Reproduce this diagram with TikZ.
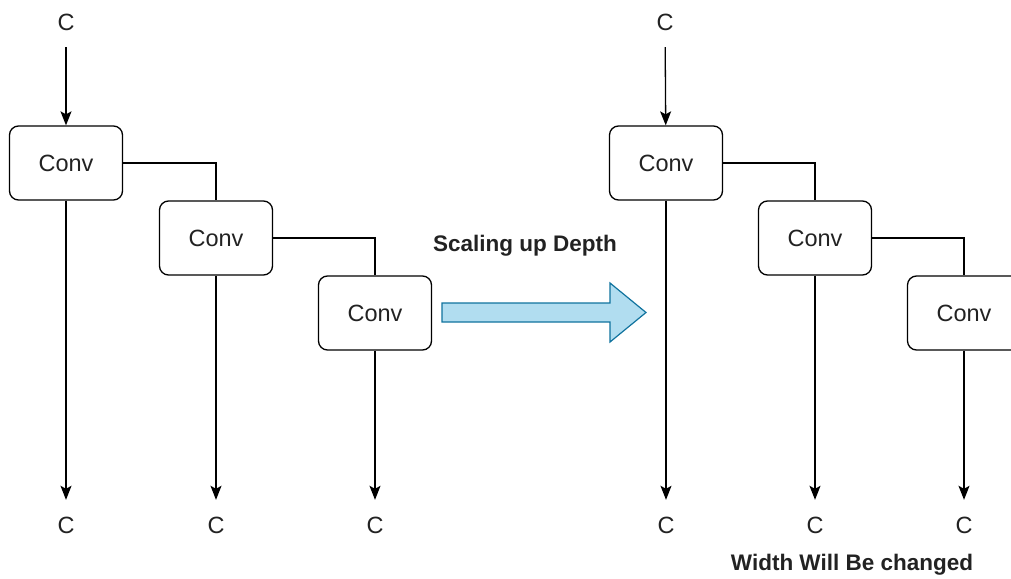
\documentclass[tikz,border=0pt]{standalone}
\usepackage{fontspec}
\setmainfont{Liberation Sans}
\usetikzlibrary{arrows.meta}
\definecolor{arrfill}{HTML}{B1DDF0}
\definecolor{arrdraw}{HTML}{10739E}
\definecolor{txt}{HTML}{222222}
\begin{document}
\begin{tikzpicture}[x=1pt,y=-1pt,
  every node/.style={text=txt,font=\fontsize{23.5}{27}\selectfont},
  convbox/.style={draw,line width=1.3pt,rounded corners=9pt,minimum width=113pt,minimum height=74pt,inner sep=0pt},
  clabel/.style={minimum height=50pt,inner sep=0pt},
  arr/.style={line width=1.3pt,-{Stealth[width=11pt,length=14pt,inset=3pt]}},
  wire/.style={line width=1.3pt},
  boldlabel/.style={font=\fontsize{22.5}{26}\selectfont\bfseries}]
\useasboundingbox (0,0) rectangle (1011,578);
\clip (0,0) rectangle (1011,578);
% left
\node[clabel] (t1) at (66,22) {C};
\node[convbox] (b1) at (66,163) {Conv};
\node[convbox] (b2) at (216,238) {Conv};
\node[convbox] (b3) at (375,313) {Conv};
\node[clabel] (c1) at (66,525) {C};
\node[clabel] (c2) at (216,525) {C};
\node[clabel] (c3) at (375,525) {C};
\draw[arr] (t1) -- (b1);
\draw[wire] (b1.east) -| (b2.north);
\draw[wire] (b2.east) -| (b3.north);
\draw[arr] (b1) -- (c1);
\draw[arr] (b2) -- (c2);
\draw[arr] (b3) -- (c3);
% big arrow
\draw[line width=1.2pt,fill=arrfill,draw=arrdraw,line join=miter]
  (442,303) -- (610,303) -- (610,283) -- (646,312.5) -- (610,342) -- (610,322) -- (442,322) -- cycle;
\node[boldlabel] (lab1) at (525,246) {Scaling up Depth};
% right
\node[clabel] (t4) at (665,22) {C};
\node[convbox] (b4) at (666,163) {Conv};
\node[convbox] (b5) at (815,238) {Conv};
\node[convbox] (b6) at (964,313) {Conv};
\node[clabel] (c4) at (666,525) {C};
\node[clabel] (c5) at (815,525) {C};
\node[clabel] (c6) at (964,525) {C};
\draw[arr] (t4) -- (b4);
\draw[wire] (b4.east) -| (b5.north);
\draw[wire] (b5.east) -| (b6.north);
\draw[arr] (b4) -- (c4);
\draw[arr] (b5) -- (c5);
\draw[arr] (b6) -- (c6);
\node[boldlabel] (lab2) at (852,565) {Width Will Be changed};
\end{tikzpicture}
\end{document}
